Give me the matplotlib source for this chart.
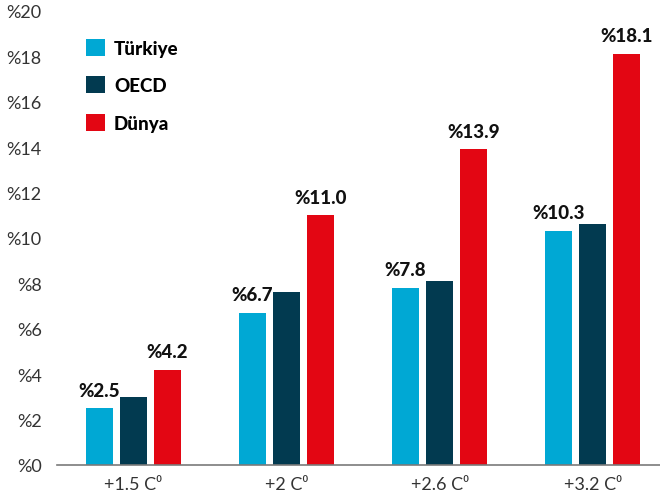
import numpy as np
import matplotlib.pyplot as plt
from matplotlib.patches import Patch

# senaryolar ve seri değerleri (%)
senaryolar = ["+1.5 C⁰", "+2 C⁰", "+2.6 C⁰", "+3.2 C⁰"]
turkiye = [2.5, 6.7, 7.8, 10.3]
oecd = [3.0, 7.6, 8.1, 10.6]
dunya = [4.2, 11.0, 13.9, 18.1]

seri_adlari = ["Türkiye", "OECD", "Dünya"]
renkler = ["#00A8D4", "#023A50", "#E30613"]
y_ticks = list(range(0, 21, 2))

plt.rcParams['font.family'] = ['Lato', 'DejaVu Sans']

fig = plt.figure(figsize=(6.6, 5.02), dpi=100)
ax = fig.add_axes([57 / 660, 36 / 502, 1 - 57 / 660, 454 / 502])

x = np.arange(len(senaryolar))
w = 0.176
step = 0.222
seriler = [turkiye, oecd, dunya]
bars = []
for i, (vals, c) in enumerate(zip(seriler, renkler)):
    b = ax.bar(x + (i - 1) * step, vals, width=w, color=c, zorder=2)
    bars.append(b)

# değer etiketleri sadece Türkiye ve Dünya için
for b, vals in ((bars[0], turkiye), (bars[2], dunya)):
    for rect, v in zip(b, vals):
        ax.annotate(f"%{v:.1f}", (rect.get_x() + rect.get_width() / 2, v),
                    xytext=(0, 7), textcoords="offset points",
                    ha="center", va="bottom", fontsize=13.5,
                    fontweight="black", color="#111111")

ax.set_xlim(-0.5, 3.44)
ax.set_ylim(0, 20)
ax.set_xticks(x)
ax.set_xticklabels(senaryolar, fontsize=13, color="#333333")
ax.set_yticks(y_ticks)
ax.set_yticklabels([f"%{t}" for t in y_ticks], fontsize=13, color="#333333")
ax.tick_params(axis="both", length=0)
ax.tick_params(axis="y", pad=11)
ax.tick_params(axis="x", pad=8)

for s in ("top", "right", "left"):
    ax.spines[s].set_visible(False)
ax.spines["bottom"].set_color("#7a7a7a")
ax.spines["bottom"].set_linewidth(1.2)

handles = [Patch(facecolor=c, edgecolor="none") for c in renkler]
leg = ax.legend(handles, seri_adlari, loc="upper left",
                bbox_to_anchor=(0.02, 0.976), frameon=False,
                handlelength=1.0, handleheight=1.0, handletextpad=0.5,
                labelspacing=1.05,
                prop={"size": 13.5, "weight": "black"})

fig.savefig("out.png", dpi=100)
